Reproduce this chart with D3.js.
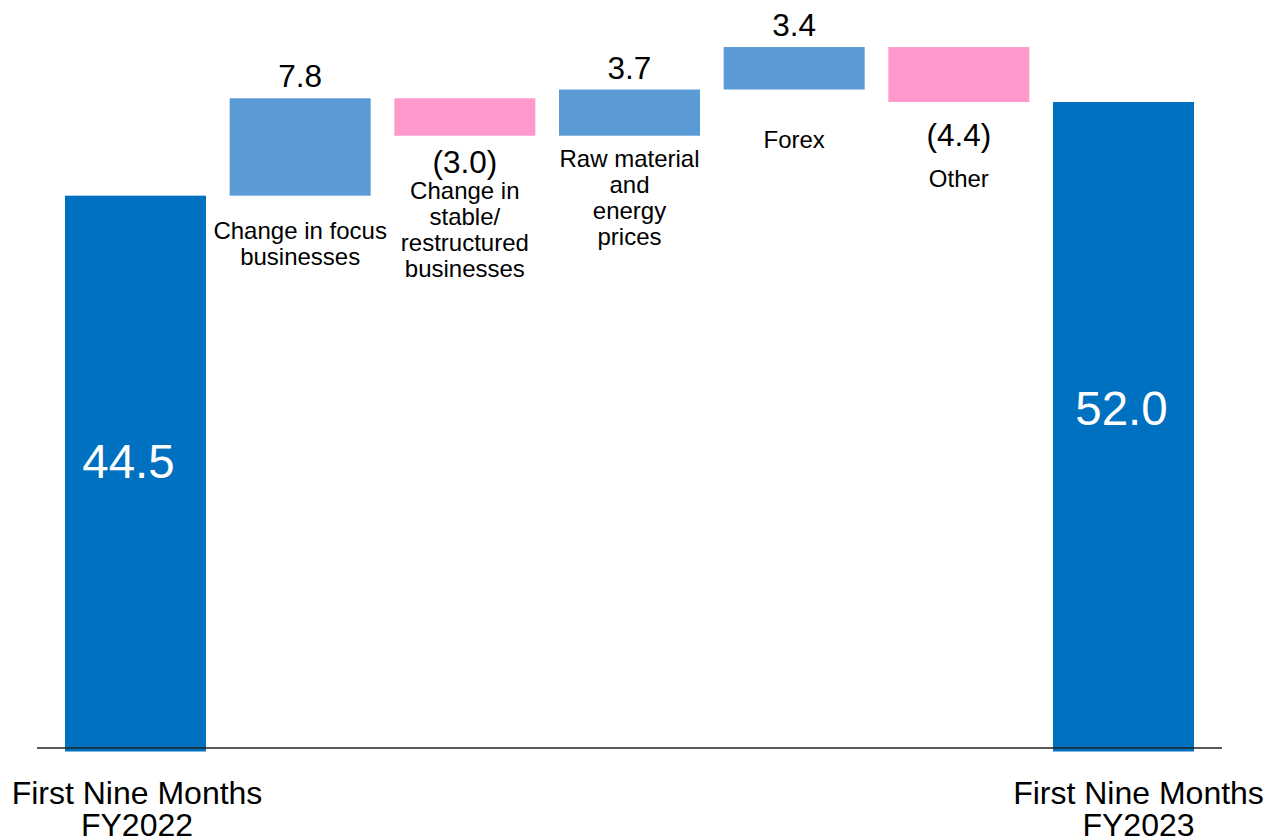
<!DOCTYPE html>
<html>
  <head>
    <meta charset="utf-8">
    <title>waterfall</title>
    <script src="https://cdnjs.cloudflare.com/ajax/libs/d3/7.8.5/d3.min.js"></script>
    <style>
      body { margin: 0; background: #fff; }
      text { font-family: "Liberation Sans", Arial, sans-serif; fill: #000; }
    </style>
  </head>
  <body>
    <script>
      // data
      var categories = ['start', 'focus', 'stable', 'raw', 'forex', 'other', 'end'];
      var labels = [
        ['First Nine Months', 'FY2022'],
        ['Change in focus', 'businesses'],
        ['Change in', 'stable/', 'restructured', 'businesses'],
        ['Raw material', 'and', 'energy', 'prices'],
        ['Forex'],
        ['Other'],
        ['First Nine Months', 'FY2023']
      ];
      var values = [44.5, 7.8, -3.0, 3.7, 3.4, -4.4, 52.0];
      var kinds = ['total', 'delta', 'delta', 'delta', 'delta', 'delta', 'total'];

      // hand placed label gaps below the bars (as in the slide)
      var labelGap = [0, 43, 63, 31, 58, 85];
      var negValueGap = [0, 0, 37, 0, 0, 44];

      var w = 1268, h = 840;
      var colTotal = '#0070c0', colUp = '#5b9bd5', colDown = '#ff99cc';

      var svg = d3.select('body').append('svg')
        .attr('width', w)
        .attr('height', h);

      var x = d3.scaleBand()
        .domain(categories)
        .range([65, 1194])
        .paddingInner(0.1437)
        .paddingOuter(0);

      var y = d3.scaleLinear()
        .domain([0, 52])
        .range([751.5, 102]);

      // build running totals
      var run = 0;
      var bars = values.map(function(v, i) {
        var d = { key: categories[i], v: v, kind: kinds[i], i: i };
        if (kinds[i] === 'total') {
          d.y0 = 0; d.y1 = v; run = v;
        } else {
          d.y0 = run; d.y1 = run + v; run = run + v;
        }
        d.lo = Math.min(d.y0, d.y1);
        d.hi = Math.max(d.y0, d.y1);
        return d;
      });

      svg.selectAll('rect.bar')
        .data(bars)
        .enter()
        .append('rect')
          .attr('class', 'bar')
          .attr('x', function(d) { return x(d.key) })
          .attr('width', x.bandwidth())
          .attr('y', function(d) { return y(d.hi) })
          .attr('height', function(d) { return y(d.lo) - y(d.hi) })
          .attr('fill', function(d) {
            if (d.kind === 'total') return colTotal;
            return d.v >= 0 ? colUp : colDown;
          });

      // baseline
      svg.append('line')
        .attr('x1', 37).attr('x2', 1222)
        .attr('y1', y(0) - 3.5).attr('y2', y(0) - 3.5)
        .attr('stroke', '#222')
        .attr('stroke-width', 1.3);

      var fmt = function(v) {
        return v < 0 ? '(' + d3.format('.1f')(-v) + ')' : d3.format('.1f')(v);
      };

      // small nudges of the in-bar totals, as placed in the slide
      var totalNudge = { start: [-7, 0], end: [-2, -6] };

      // value labels
      bars.forEach(function(d) {
        var cx = x(d.key) + x.bandwidth() / 2;
        if (d.kind === 'total') {
          svg.append('text')
            .attr('x', cx + totalNudge[d.key][0])
            .attr('y', (y(d.hi) + y(0)) / 2 + 4 + totalNudge[d.key][1])
            .attr('text-anchor', 'middle')
            .style('font-size', '47.5px')
            .style('fill', '#fff')
            .text(fmt(d.v));
        } else if (d.v >= 0) {
          svg.append('text')
            .attr('x', cx)
            .attr('y', y(d.hi) - 11)
            .attr('text-anchor', 'middle')
            .style('font-size', '31.5px')
            .text(fmt(d.v));
        } else {
          svg.append('text')
            .attr('x', cx)
            .attr('y', y(d.lo) + negValueGap[d.i])
            .attr('text-anchor', 'middle')
            .style('font-size', '31.5px')
            .text(fmt(d.v));
        }
      });

      // category labels under delta bars
      bars.filter(function(d) { return d.kind === 'delta' }).forEach(function(d) {
        var t = svg.append('text')
          .attr('x', x(d.key) + x.bandwidth() / 2)
          .attr('y', y(d.lo) + labelGap[d.i])
          .attr('text-anchor', 'middle')
          .style('font-size', '24px');
        labels[d.i].forEach(function(s, k) {
          t.append('tspan')
            .attr('x', x(d.key) + x.bandwidth() / 2)
            .attr('dy', k === 0 ? 0 : 26)
            .text(s);
        });
      });

      // category labels under total bars
      var totalShift = { start: 1.5, end: 15 };
      bars.filter(function(d) { return d.kind === 'total' }).forEach(function(d) {
        var cx = x(d.key) + x.bandwidth() / 2 + totalShift[d.key];
        var t = svg.append('text')
          .attr('x', cx)
          .attr('y', 804)
          .attr('text-anchor', 'middle')
          .style('font-size', '32px');
        labels[d.i].forEach(function(s, k) {
          t.append('tspan')
            .attr('x', cx)
            .attr('dy', k === 0 ? 0 : 32)
            .text(s);
        });
      });
    </script>
  </body>
</html>
